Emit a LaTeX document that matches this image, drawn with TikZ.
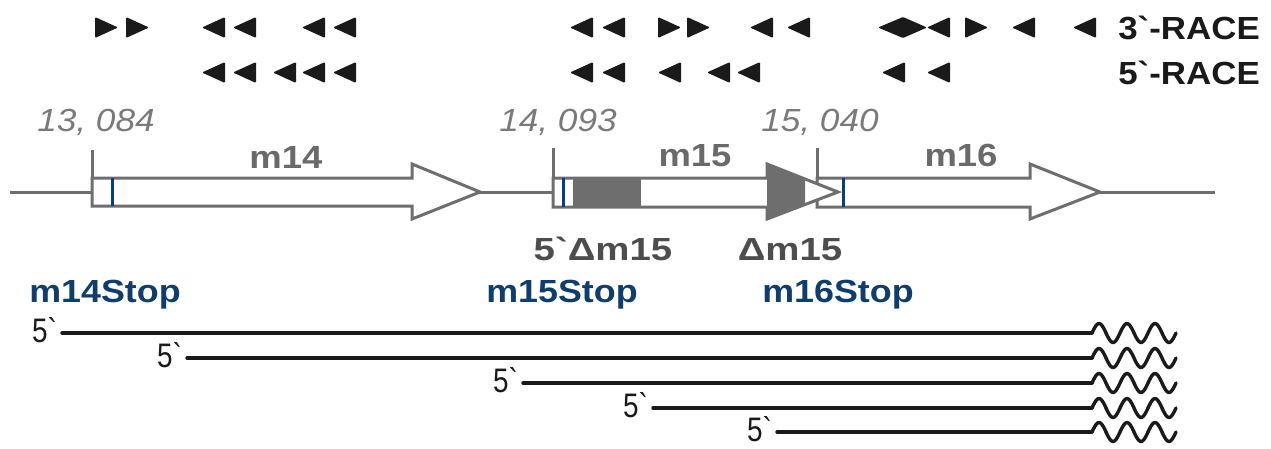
\documentclass[tikz,border=0pt]{standalone}
\usepackage{fontspec}
\newfontfamily\lib{Liberation Sans}
\definecolor{ink}{HTML}{1A1A1A}
\definecolor{gline}{HTML}{6E6E6E}
\definecolor{gfill}{HTML}{6E6E6E}
\definecolor{poslab}{HTML}{7A7A7A}
\definecolor{genelab}{HTML}{6A6A6A}
\definecolor{dlab}{HTML}{4D4D4D}
\definecolor{stopblue}{HTML}{0F3D6E}
\definecolor{markblue}{HTML}{0A3A8A}
\newcommand\sx[2]{\scalebox{#1}[1]{#2}}
\newcommand\rtri[2]{\fill[ink,rounded corners=1.2pt] (#1,#2-10.5) -- (#1+23,#2) -- (#1,#2+10.5) -- cycle;}
\newcommand\ltri[2]{\fill[ink,rounded corners=1.2pt] (#1+23,#2-10.5) -- (#1,#2) -- (#1+23,#2+10.5) -- cycle;}
\tikzset{
  race/.style={text=ink, font=\lib\fontsize{32}{36}\selectfont\bfseries, inner sep=0pt, anchor=base east},
  poslabel/.style={text=poslab, font=\lib\fontsize{32}{36}\selectfont\itshape, inner sep=0pt, anchor=base},
  gname/.style={text=genelab, font=\lib\fontsize{32}{36}\selectfont\bfseries, inner sep=0pt, anchor=base},
  dname/.style={text=dlab, font=\lib\fontsize{32}{36}\selectfont\bfseries, inner sep=0pt, anchor=base},
  stoplabel/.style={text=stopblue, font=\lib\fontsize{32}{36}\selectfont\bfseries, inner sep=0pt, anchor=base},
  fivep/.style={text=ink, font=\lib\fontsize{34}{40}\selectfont, inner sep=0pt, anchor=base east},
  geneout/.style={draw=gline, line width=3pt, line join=miter},
  tick/.style={draw=gline, line width=3pt},
  bmark/.style={draw=markblue, line width=3pt},
  tline/.style={draw=ink, line width=3.4pt, line cap=round, line join=round},
}
\begin{document}
\begin{tikzpicture}[x=1pt,y=-1pt]
\useasboundingbox (0,0) rectangle (1271,448);
% ---- 3'-RACE row
\rtri{95}{27.5}\rtri{126}{27.5}
\ltri{202}{27.5}\ltri{233}{27.5}\ltri{302}{27.5}\ltri{333}{27.5}
\ltri{570}{27.5}\ltri{602}{27.5}
\rtri{658}{27.5}\rtri{687}{27.5}
\ltri{750}{27.5}\ltri{787}{27.5}
\fill[ink,rounded corners=1.2pt] (878,27.5) -- (903,17) -- (927,27.5) -- (903,38) -- cycle;
\ltri{927}{27.5}
\rtri{965}{27.5}
\ltri{1012}{27.5}\ltri{1073}{27.5}
% ---- 5'-RACE row
\ltri{202}{72.5}\ltri{233}{72.5}\ltri{273}{72.5}\ltri{302}{72.5}\ltri{333}{72.5}
\ltri{570}{72.5}\ltri{602}{72.5}\ltri{658}{72.5}\ltri{707}{72.5}\ltri{737}{72.5}
\ltri{882}{72.5}\ltri{927}{72.5}
\node[race] (r3) at (1260,39) {\sx{1.09}{3`-RACE}};
\node[race] (r5) at (1260,84) {\sx{1.09}{5`-RACE}};
% ---- genome line
\draw[tick] (10,192) -- (1215,192);
% m16
\fill[white] (817,178) -- (1030,178) -- (1030,164) -- (1100,192) -- (1030,219) -- (1030,207) -- (817,207) -- cycle;
\draw[geneout] (817,178) -- (1030,178) -- (1030,164) -- (1100,192) -- (1030,219) -- (1030,207) -- (817,207) -- cycle;
% m14
\fill[white] (92,178) -- (412,178) -- (412,164) -- (480,192) -- (412,219) -- (412,206) -- (92,206) -- cycle;
\draw[geneout] (92,178) -- (412,178) -- (412,164) -- (480,192) -- (412,219) -- (412,206) -- (92,206) -- cycle;
% m15
\fill[white] (553,178) -- (767,178) -- (767,164) -- (838,192) -- (767,219) -- (767,207) -- (553,207) -- cycle;
\fill[gfill] (573,178) rectangle (641,207);
\fill[gfill] (767,164) -- (805,179) -- (805,204.5) -- (767,219) -- cycle;
\draw[geneout] (553,178) -- (767,178) -- (767,164) -- (838,192) -- (767,219) -- (767,207) -- (553,207) -- cycle;
% ticks
\draw[tick] (92,150) -- (92,178);
\draw[tick] (553,148) -- (553,178);
\draw[tick] (817,148) -- (817,178);
% stop marks
\draw[bmark] (112,178) -- (112,206);
\draw[bmark] (563,178) -- (563,207);
\draw[bmark] (843,178) -- (843,207);
% labels
\node[poslabel] (p14) at (96,131) {\sx{1.1}{13, 084}};
\node[poslabel] (p15) at (558,131) {\sx{1.1}{14, 093}};
\node[poslabel] (p16) at (820,131) {\sx{1.1}{15, 040}};
\node[gname] (g14) at (286,168) {\sx{1.14}{m14}};
\node[gname] (g15) at (695,166) {\sx{1.14}{m15}};
\node[gname] (g16) at (961,166) {\sx{1.14}{m16}};
\node[dname] (d1) at (603,260) {\sx{1.2}{5`Δm15}};
\node[dname] (d2) at (790,260) {\sx{1.2}{Δm15}};
\node[stoplabel] (s14) at (105,302) {\sx{1.12}{m14Stop}};
\node[stoplabel] (s15) at (562,302) {\sx{1.12}{m15Stop}};
\node[stoplabel] (s16) at (838,302) {\sx{1.12}{m16Stop}};
% transcripts
\foreach \i/\s/\y in {1/62/333, 2/187/358, 3/523/383, 4/653/408, 5/777/432}{
  \coordinate (s\i) at (\s,\y);
  \coordinate (w\i) at (1092,\y);
  \node[fivep] (f\i) at (\s-5,\y+9) {\sx{0.82}{5`}};
  \draw[tline] (s\i) -- (w\i);
  \draw[tline, shift={(w\i)}] plot[domain=0:84, samples=60, smooth] (\x,{-9.5*sin(\x/28*360)});
}
\end{tikzpicture}
\end{document}
